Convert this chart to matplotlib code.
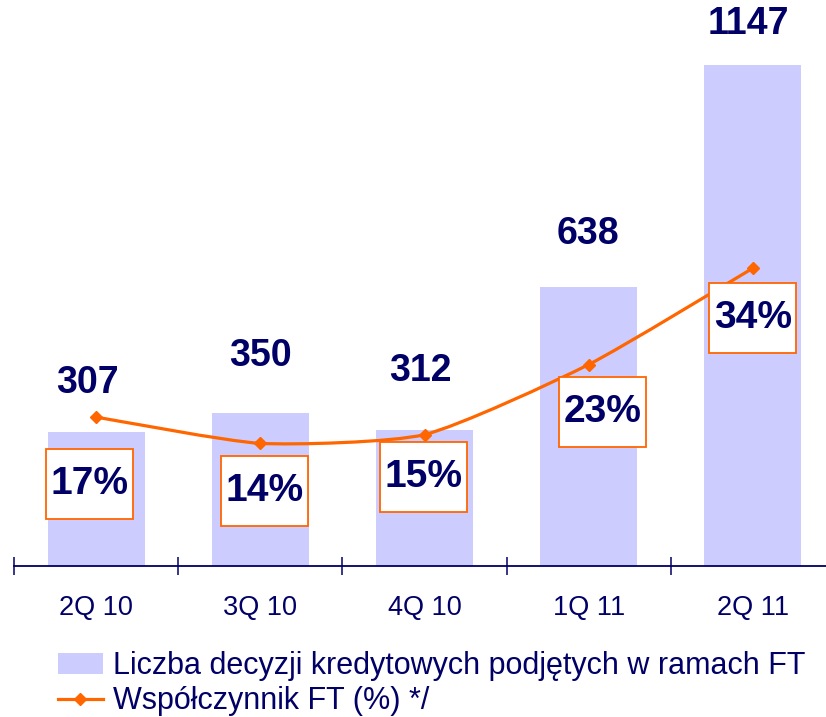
import matplotlib
matplotlib.use("Agg")
import matplotlib.pyplot as plt
from matplotlib.path import Path
from matplotlib.patches import PathPatch, Rectangle, Patch
from matplotlib.lines import Line2D
from matplotlib.transforms import ScaledTranslation
import numpy as np

plt.rcParams['font.family'] = ['Liberation Sans', 'DejaVu Sans']

# ---- data ----
categories = ["2Q 10", "3Q 10", "4Q 10", "1Q 11", "2Q 11"]
decisions = [307, 350, 312, 638, 1147]
ft_ratio = [17, 14, 15, 23, 34]
legend_labels = ["Liczba decyzji kredytowych podjętych w ramach FT",
                 "Współczynnik FT (%) */"]

# ---- styles / label offsets (pixels, +x right, +y up) ----
BAR_COLOR = "#CCCCFF"
LINE_COLOR = "#FF6600"
TEXT_COLOR = "#000066"
bar_label_offsets = [(-9, 49), (0, 57), (-4, 59), (-1, 53), (-5, 41)]
box_offsets = [(-7, -67), (4, -48), (-1, -42), (14, -47), (0, -50)]
BOX_W, BOX_H = 87, 70
SMOOTH = 1 / 10.0

W, H, DPI = 826, 717, 100
fig = plt.figure(figsize=(W / DPI, H / DPI), dpi=DPI)

ax_left, ax_right = 14, 835
ax_bottom, ax_top = 566, 10
ax = fig.add_axes([ax_left / W, (H - ax_bottom) / H,
                   (ax_right - ax_left) / W, (ax_bottom - ax_top) / H])
ax.set_zorder(1)
ax.patch.set_visible(False)

x = np.arange(len(categories))
px_per_unit = 501 / 1147
ax.set_ylim(0, (ax_bottom - ax_top) / px_per_unit)
ax.set_xlim(-0.5, len(categories) - 0.5)
ax.bar(x, decisions, width=0.59, color=BAR_COLOR, zorder=1)

for s in ["top", "right", "left"]:
    ax.spines[s].set_visible(False)
ax.spines["bottom"].set_color(TEXT_COLOR)
ax.spines["bottom"].set_linewidth(1.3)
ax.set_yticks([])
ax.set_xticks(x)
ax.set_xticklabels(categories, fontsize=19.5, color=TEXT_COLOR)
ax.tick_params(axis="x", which="major", length=0, pad=21)
ax.set_xticks(np.arange(-0.5, len(categories)), minor=True)
ax.tick_params(axis="x", which="minor", direction="inout", length=12.5,
               width=1.1, color=TEXT_COLOR)

for i, v in enumerate(decisions):
    dx, dy = bar_label_offsets[i]
    ax.annotate(str(v), (x[i], v), xytext=(dx * 0.72, dy * 0.72),
                textcoords="offset points", ha="center", va="center",
                fontsize=27, fontweight="bold", color=TEXT_COLOR, zorder=5)

# secondary axis for ratio
ax2 = fig.add_axes(ax.get_position(), sharex=ax)
ax2.set_zorder(2)
ax2.patch.set_visible(False)
px_per_pct = 8.76
ax2.set_ylim(0, (ax_bottom - ax_top) / px_per_pct)
ax2.axis("off")

# smoothed line (Bezier through the points)
pts = np.column_stack([x, ft_ratio]).astype(float)
verts = [tuple(pts[0])]
codes = [Path.MOVETO]
n = len(pts)
for i in range(n - 1):
    p0 = pts[i - 1] if i > 0 else pts[i]
    p1 = pts[i]
    p2 = pts[i + 1]
    p3 = pts[i + 2] if i + 2 < n else pts[i + 1]
    c1 = p1 + (p2 - p0) * SMOOTH
    c2 = p2 - (p3 - p1) * SMOOTH
    verts += [tuple(c1), tuple(c2), tuple(p2)]
    codes += [Path.CURVE4] * 3
ax2.add_patch(PathPatch(Path(verts, codes), facecolor="none",
                        edgecolor=LINE_COLOR, lw=2.3, zorder=3))
ax2.plot(x, ft_ratio, linestyle="none", marker="D", markersize=6.5,
         color=LINE_COLOR, zorder=4)

for i, v in enumerate(ft_ratio):
    dx, dy = box_offsets[i]
    trans = fig.dpi_scale_trans + ScaledTranslation(x[i], v, ax2.transData)
    ax2.add_patch(Rectangle(((dx - BOX_W / 2) / DPI, (dy - BOX_H / 2) / DPI),
                            BOX_W / DPI, BOX_H / DPI, transform=trans,
                            facecolor="white", edgecolor=LINE_COLOR,
                            lw=1.3, zorder=5, clip_on=False))
    ax2.text(dx / DPI, dy / DPI, f"{v}%", transform=trans, ha="center",
             va="center", fontsize=28, fontweight="bold", color=TEXT_COLOR,
             zorder=6)

handles = [Patch(facecolor=BAR_COLOR, edgecolor="none"),
           Line2D([0], [0], color=LINE_COLOR, lw=2.3, marker="D",
                  markersize=6.5)]
fig.legend(handles, legend_labels, loc="upper left",
           bbox_to_anchor=(58 / W, (H - 651) / H), frameon=False,
           fontsize=22, handlelength=1.47, handleheight=0.69,
           handletextpad=0.33, labelspacing=0.17, borderpad=0,
           borderaxespad=0, labelcolor=TEXT_COLOR)

fig.savefig("out.png", dpi=DPI)
